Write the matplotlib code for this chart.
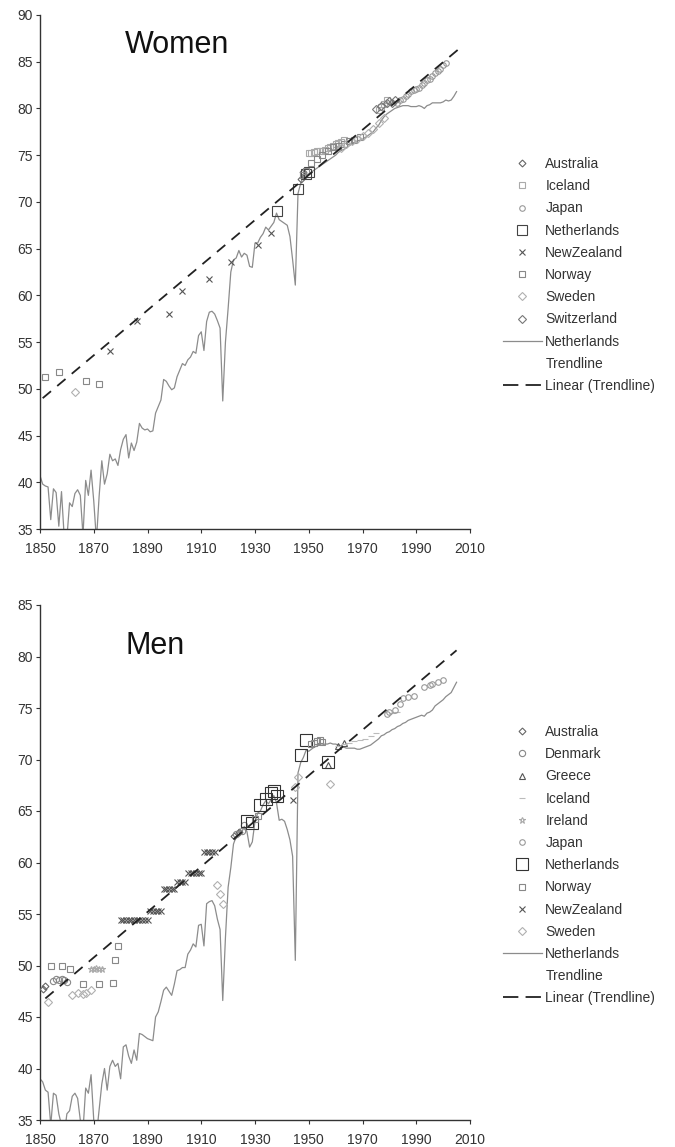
import matplotlib
matplotlib.use('Agg')
import matplotlib.pyplot as plt
from matplotlib.lines import Line2D

plt.rcParams['font.family'] = ['Liberation Sans', 'DejaVu Sans']

years = list(range(1850, 2006))

# Netherlands period life expectancy, women (1850-2005)
women_nl = [40.7, 39.8, 39.6, 39.5, 36.0, 39.3, 38.9, 35.3, 39.0, 34.2,
            34.0, 37.8, 37.4, 38.8, 39.2, 38.6, 34.3, 40.2, 38.6, 41.3,
            38.0, 33.8, 38.5, 42.3, 39.8, 40.9, 43.0, 42.3, 42.5, 41.8,
            43.5, 44.6, 45.1, 42.6, 44.2, 43.4, 44.3, 46.3, 45.8, 45.6,
            45.7, 45.4, 45.5, 47.4, 48.1, 48.8, 51.0, 50.8, 50.3, 49.9,
            50.1, 51.3, 52.0, 52.7, 52.5, 53.1, 53.4, 54.0, 53.8, 55.7,
            56.1, 54.1, 57.2, 58.2, 58.3, 58.0, 57.3, 56.5, 48.7, 55.0,
            58.6, 62.5, 63.8, 64.0, 64.8, 64.1, 64.5, 64.3, 63.1, 63.0,
            65.6, 65.6, 66.2, 66.6, 67.3, 67.0, 67.4, 67.8, 68.8, 68.1,
            67.9, 67.7, 67.5, 66.3, 63.8, 61.1, 70.9, 72.0, 72.8, 72.9,
            73.0, 73.2, 73.4, 73.6, 73.8, 74.0, 74.2, 74.4, 74.6, 74.8,
            75.0, 75.3, 75.5, 75.6, 75.8, 76.0, 76.2, 76.4, 76.5, 76.6,
            76.7, 76.9, 77.1, 77.3, 77.5, 77.9, 78.2, 78.7, 79.1, 79.4,
            79.6, 79.8, 80.0, 80.1, 80.2, 80.3, 80.3, 80.3, 80.2, 80.2,
            80.2, 80.3, 80.2, 80.0, 80.3, 80.4, 80.6, 80.6, 80.6, 80.6,
            80.7, 80.9, 80.8, 80.9, 81.3, 81.8]

# Netherlands period life expectancy, men (1850-2005)
men_nl = [39.0, 38.7, 37.9, 37.7, 34.5, 37.6, 37.4, 35.6, 34.5, 33.5,
          35.6, 35.9, 37.3, 37.6, 37.1, 35.0, 34.0, 38.1, 37.6, 39.4,
          35.0, 33.5, 36.0, 38.5, 40.0, 37.9, 40.2, 40.8, 40.2, 40.5,
          39.0, 42.1, 42.3, 41.2, 40.5, 41.8, 40.8, 43.4, 43.3, 43.1,
          42.9, 42.8, 42.7, 45.0, 45.5, 46.5, 47.6, 47.9, 47.5, 47.1,
          48.2, 49.5, 49.6, 49.8, 49.8, 51.1, 51.5, 52.1, 51.8, 53.9,
          54.0, 51.9, 56.0, 56.2, 56.3, 55.8, 54.5, 53.5, 46.6, 52.7,
          57.6, 59.5, 61.8, 62.5, 63.2, 62.9, 63.5, 63.0, 61.5, 62.0,
          64.0, 64.8, 65.0, 65.6, 66.0, 65.7, 66.1, 66.5, 65.8, 64.1,
          64.2, 64.0, 63.2, 62.2, 60.6, 50.5, 68.7, 69.7, 70.2, 70.9,
          70.8, 71.0, 71.2, 71.3, 71.4, 71.4, 71.5, 71.5, 71.6, 71.5,
          71.5, 71.4, 71.3, 71.2, 71.1, 71.1, 71.1, 71.1, 71.0, 71.0,
          71.1, 71.2, 71.3, 71.4, 71.6, 71.8, 72.0, 72.3, 72.4, 72.6,
          72.7, 72.9, 73.0, 73.2, 73.3, 73.5, 73.6, 73.8, 73.9, 74.0,
          74.1, 74.2, 74.3, 74.2, 74.5, 74.6, 74.8, 75.2, 75.4, 75.6,
          75.8, 76.1, 76.3, 76.5, 77.0, 77.5]

# linear trendlines (end points)
women_trend_x = [1851, 2006]
women_trend_y = [49.0, 86.4]
men_trend_x = [1852, 2005]
men_trend_y = [46.8, 80.6]

# record-holder points, women
w_australia_x = [1947, 1948]
w_australia_y = [72.5, 73.2]
w_iceland_x = [1950, 1951, 1952, 1953, 1954, 1955, 1956, 1957, 1958, 1959, 1960, 1961, 1962, 1963,
               1976, 1977, 1978, 1979]
w_iceland_y = [75.2, 75.2, 75.3, 75.4, 75.5, 75.5, 75.6, 75.8, 75.9, 76.0, 76.2, 76.3, 76.4, 76.6,
               79.8, 80.2, 80.5, 80.9]
w_japan_x = [1983, 1984, 1985, 1986, 1987, 1988, 1989, 1990, 1991, 1992, 1993, 1994, 1995, 1996,
             1997, 1998, 1999, 2000, 2001]
w_japan_y = [80.6, 80.9, 81.0, 81.3, 81.6, 81.9, 82.0, 82.1, 82.2, 82.5, 82.7, 83.0, 83.1, 83.5,
             83.8, 84.0, 84.2, 84.6, 84.9]
w_netherlands_x = [1938, 1946, 1949, 1950]
w_netherlands_y = [69.0, 71.4, 73.0, 73.2]
w_newzealand_x = [1876, 1886, 1898, 1903, 1913, 1921, 1931, 1936]
w_newzealand_y = [54.1, 57.3, 58.0, 60.5, 61.7, 63.6, 65.4, 66.7]
w_norway_x = [1852, 1857, 1867, 1872, 1948, 1949, 1951, 1953, 1955, 1957, 1959, 1961, 1963, 1965, 1967, 1969]
w_norway_y = [51.3, 51.8, 50.8, 50.5, 72.9, 73.3, 74.2, 74.6, 75.0, 75.4, 75.9, 76.0, 76.2, 76.5, 76.6, 76.9]
w_sweden_x = [1863, 1962, 1964, 1966, 1968, 1970, 1972, 1974, 1976, 1978]
w_sweden_y = [49.7, 75.8, 76.2, 76.5, 76.7, 77.1, 77.4, 77.8, 78.4, 79.0]
w_switzerland_x = [1975, 1977, 1979, 1980, 1981, 1982]
w_switzerland_y = [79.9, 80.3, 80.6, 80.8, 80.6, 80.9]

# record-holder points, men
m_australia_x = [1851, 1852, 1922, 1924]
m_australia_y = [47.7, 48.0, 62.6, 63.0]
m_denmark_x = [1855, 1856, 1857, 1858, 1859, 1860, 1923, 1925, 1926]
m_denmark_y = [48.5, 48.7, 48.6, 48.7, 48.6, 48.4, 62.8, 63.1, 63.6]
m_greece_x = [1957, 1961, 1963]
m_greece_y = [69.5, 71.3, 71.6]
m_iceland_x = [1961, 1963, 1965, 1967, 1969, 1971, 1973, 1975, 1981, 1983]
m_iceland_y = [71.3, 71.5, 71.6, 71.8, 71.9, 72.0, 72.3, 72.6, 74.5, 74.6]
m_ireland_x = [1869, 1870, 1871, 1872, 1873]
m_ireland_y = [49.7, 49.7, 49.8, 49.7, 49.7]
m_japan_x = [1979, 1980, 1982, 1984, 1985, 1987, 1989, 1993, 1995, 1996, 1998, 2000]
m_japan_y = [74.4, 74.6, 74.8, 75.4, 76.0, 76.1, 76.2, 77.0, 77.2, 77.3, 77.5, 77.7]
m_netherlands_x = [1927, 1929, 1932, 1934, 1936, 1937, 1938, 1947, 1949, 1957]
m_netherlands_y = [64.0, 63.8, 65.6, 66.2, 66.7, 66.9, 66.5, 70.4, 71.9, 69.8]
m_norway_x = [1854, 1858, 1861, 1866, 1872, 1877, 1878, 1879, 1930, 1931, 1951, 1952, 1953, 1954, 1955]
m_norway_y = [50.0, 50.0, 49.7, 48.2, 48.2, 48.3, 50.5, 51.9, 64.2, 64.5, 71.5, 71.6, 71.8, 71.9, 71.7]
m_newzealand_x = [1880, 1881, 1882, 1883, 1884, 1885, 1886, 1887, 1888, 1889, 1890,
                  1891, 1892, 1893, 1894, 1895, 1896, 1897, 1898, 1899, 1900,
                  1901, 1902, 1903, 1904, 1905, 1906, 1907, 1908, 1909, 1910,
                  1911, 1912, 1913, 1914, 1915, 1944]
m_newzealand_y = [54.4, 54.4, 54.4, 54.4, 54.4, 54.4, 54.4, 54.4, 54.4, 54.4, 54.4,
                  55.3, 55.3, 55.3, 55.3, 55.3, 57.4, 57.4, 57.4, 57.4, 57.4,
                  58.1, 58.1, 58.1, 58.1, 59.0, 59.0, 59.0, 59.0, 59.0, 59.0,
                  61.0, 61.0, 61.0, 61.0, 61.0, 66.1]
m_sweden_x = [1853, 1862, 1864, 1866, 1867, 1869, 1916, 1917, 1918, 1945, 1946, 1958]
m_sweden_y = [46.5, 47.1, 47.3, 47.2, 47.3, 47.6, 57.8, 56.9, 56.0, 67.3, 68.3, 67.6]

# marker styles: (marker, colour, size)
STY = {
    'Australia': ('D', '#666666', 3.5),
    'Denmark': ('o', '#888888', 4.5),
    'Greece': ('^', '#555555', 4.5),
    'Iceland': ('s', '#aaaaaa', 4),
    'Ireland': ('*', '#aaaaaa', 5),
    'Japan': ('o', '#999999', 4),
    'Netherlands': ('s', '#444444', 7),
    'NewZealand': ('x', '#555555', 4),
    'Norway': ('s', '#888888', 4),
    'Sweden': ('D', '#b0b0b0', 4),
    'Switzerland': ('D', '#777777', 4),
}
STY_MEN = dict(STY)
STY_MEN['Iceland'] = ('_', '#bbbbbb', 4)
STY_MEN['Netherlands'] = ('s', '#333333', 8)

LINE_C = '#8c8c8c'
TREND_C = '#222222'

women_points = [
    ('Australia', w_australia_x, w_australia_y),
    ('Iceland', w_iceland_x, w_iceland_y),
    ('Japan', w_japan_x, w_japan_y),
    ('Netherlands', w_netherlands_x, w_netherlands_y),
    ('NewZealand', w_newzealand_x, w_newzealand_y),
    ('Norway', w_norway_x, w_norway_y),
    ('Sweden', w_sweden_x, w_sweden_y),
    ('Switzerland', w_switzerland_x, w_switzerland_y),
]
men_points = [
    ('Australia', m_australia_x, m_australia_y),
    ('Denmark', m_denmark_x, m_denmark_y),
    ('Greece', m_greece_x, m_greece_y),
    ('Iceland', m_iceland_x, m_iceland_y),
    ('Ireland', m_ireland_x, m_ireland_y),
    ('Japan', m_japan_x, m_japan_y),
    ('Netherlands', m_netherlands_x, m_netherlands_y),
    ('Norway', m_norway_x, m_norway_y),
    ('NewZealand', m_newzealand_x, m_newzealand_y),
    ('Sweden', m_sweden_x, m_sweden_y),
]

W, H = 675, 1147
fig = plt.figure(figsize=(W / 100, H / 100), dpi=100)


def panel(rect, title, title_y, ylim, yticks, line_y, trend_x, trend_y, points, sty, leg_top):
    ax = fig.add_axes(rect)
    ax.plot(years, line_y, color=LINE_C, lw=0.9, zorder=2)
    for name, xs, ys in points:
        m, c, s = sty[name]
        ax.plot(xs, ys, ls='none', marker=m, ms=s, mfc='none', mec=c, mew=0.8, zorder=3)
    ax.plot(trend_x, trend_y, color=TREND_C, lw=1.3, dashes=(6, 4.5), zorder=4)
    ax.set_xlim(1850, 2010)
    ax.set_ylim(*ylim)
    ax.set_xticks(range(1850, 2011, 20))
    ax.set_yticks(yticks)
    for s in ['top', 'right']:
        ax.spines[s].set_visible(False)
    for s in ['left', 'bottom']:
        ax.spines[s].set_color('#333333')
        ax.spines[s].set_linewidth(1.0)
    ax.tick_params(direction='out', length=3, width=0.8, color='#333333',
                   labelsize=10, labelcolor='#333333')
    ax.tick_params(axis='x', pad=6)
    ax.tick_params(axis='y', pad=2)
    ax.text(0.198, title_y, title, transform=ax.transAxes,
            fontsize=22, va='center', ha='left', color='#111111')

    handles, labels = [], []
    for name, xs, ys in points:
        m, c, s = sty[name]
        handles.append(Line2D([], [], ls='none', marker=m, ms=s, mfc='none', mec=c, mew=0.8))
        labels.append(name)
    handles.append(Line2D([], [], color=LINE_C, lw=0.9))
    labels.append('Netherlands')
    handles.append(Line2D([], [], ls='none'))
    labels.append('Trendline')
    handles.append(Line2D([], [], color=TREND_C, lw=1.3, dashes=(8.5, 4)))
    labels.append('Linear (Trendline)')
    fig.legend(handles, labels, loc='upper left', bbox_to_anchor=(503 / W, 1 - leg_top / H),
               frameon=False, fontsize=10, handlelength=2.8, handletextpad=0.25,
               labelspacing=0.59, borderpad=0, borderaxespad=0, labelcolor='#333333')
    return ax


panel([40 / W, 1 - 529 / H, 430 / W, 514 / H], 'Women', 0.942, (35, 90), range(35, 91, 5),
      women_nl, women_trend_x, women_trend_y, women_points, STY, 157)
panel([40 / W, 1 - 1120 / H, 430 / W, 515 / H], 'Men', 0.92, (35, 85), range(35, 86, 5),
      men_nl, men_trend_x, men_trend_y, men_points, STY_MEN, 725)

fig.savefig('out.png', dpi=100)
